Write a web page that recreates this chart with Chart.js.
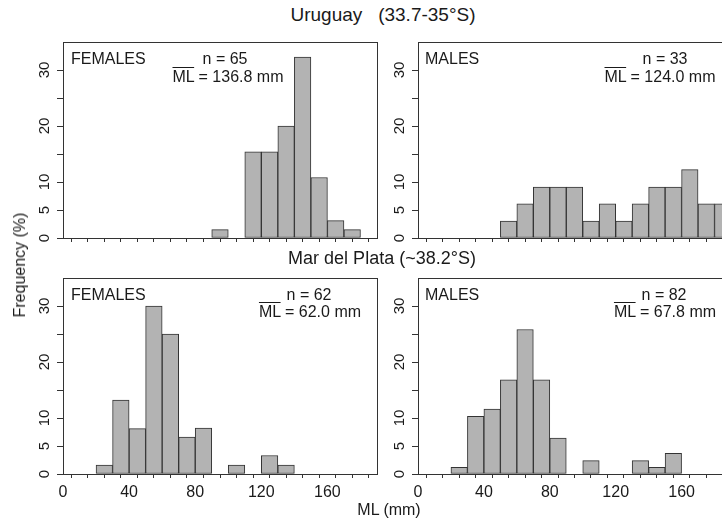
<!DOCTYPE html>
<html>
<head>
<meta charset="utf-8">
<script src="https://cdn.jsdelivr.net/npm/chart.js@4.4.1/dist/chart.umd.min.js"></script>
<style>
body { margin: 0; background: #fff; }
#wrap { position: relative; width: 722px; height: 522px; overflow: hidden;
        font-family: "Liberation Sans", Arial, sans-serif; color: #1a1a1a; }
#wrap canvas { position: absolute; }
.c { position: absolute; white-space: nowrap; line-height: 1; transform: translate(-50%, -50%); }
.l { position: absolute; white-space: nowrap; line-height: 1; transform: translateY(-50%); }
.title { font-size: 19px; }
.txt { font-size: 16px; }
.ov { text-decoration: overline; text-decoration-thickness: 1px; }
</style>
</head>
<body>
<div id="wrap">
  <canvas id="p0"></canvas>
  <canvas id="p1"></canvas>
  <canvas id="p2"></canvas>
  <canvas id="p3"></canvas>

  <div class="c title" style="left:383px;top:14px">Uruguay&nbsp;&nbsp;&nbsp;(33.7-35°S)</div>
  <div class="c title" style="left:382px;top:258px;font-size:18px">Mar del Plata (~38.2°S)</div>
  <div class="c txt" style="left:20px;top:265px;transform:translate(-50%,-50%) rotate(-90deg)">Frequency (%)</div>
  <div class="c txt" style="left:389px;top:510px">ML (mm)</div>

  <div class="l txt" id="sex0" style="left:71px;top:59px"></div>
  <div class="c txt" id="n0" style="left:225px;top:59px"></div>
  <div class="c txt" id="m0" style="left:228px;top:77px"></div>

  <div class="l txt" id="sex1" style="left:425px;top:59px"></div>
  <div class="c txt" id="n1" style="left:665px;top:59px"></div>
  <div class="c txt" id="m1" style="left:660px;top:77px"></div>

  <div class="l txt" id="sex2" style="left:71px;top:295px"></div>
  <div class="c txt" id="n2" style="left:309px;top:295px"></div>
  <div class="c txt" id="m2" style="left:310px;top:312px"></div>

  <div class="l txt" id="sex3" style="left:425px;top:295px"></div>
  <div class="c txt" id="n3" style="left:664px;top:295px"></div>
  <div class="c txt" id="m3" style="left:665px;top:312px"></div>
</div>
<script>
// bins de 10 mm (início de cada classe de ML)
const binStarts = [0, 10, 20, 30, 40, 50, 60, 70, 80, 90, 100, 110, 120, 130, 140, 150, 160, 170, 180];
const binWidth = 10;

// frequências (%)
const uruguayFemales = [0, 0, 0, 0, 0, 0, 0, 0, 0, 1.5, 0, 15.4, 15.4, 20.0, 32.3, 10.8, 3.1, 1.5, 0];
const uruguayMales   = [0, 0, 0, 0, 0, 3.0, 6.1, 9.1, 9.1, 9.1, 3.0, 6.1, 3.0, 6.1, 9.1, 9.1, 12.2, 6.1, 6.1];
const mdpFemales     = [0, 0, 1.6, 13.2, 8.1, 30.0, 25.0, 6.6, 8.2, 0, 1.6, 0, 3.3, 1.6, 0, 0, 0, 0, 0];
const mdpMales       = [0, 0, 1.2, 10.3, 11.6, 16.8, 25.8, 16.8, 6.4, 0, 2.4, 0, 0, 2.4, 1.2, 3.7, 0, 0, 0];

const panelSex  = ['FEMALES', 'MALES', 'FEMALES', 'MALES'];
const panelN    = [65, 33, 62, 82];
const panelMean = ['136.8', '124.0', '62.0', '67.8'];

const xTicks = [0, 10, 20, 30, 40, 50, 60, 70, 80, 90, 100, 110, 120, 130, 140, 150, 160, 170, 180];
const xLabels = [0, 40, 80, 120, 160];
const yTicks = [0, 5, 10, 15, 20, 25, 30];
const yLabels = [0, 5, 10, 20, 30];

const FONT = '"Liberation Sans", Arial, sans-serif';
const YW = 60, XH = 30, PT = 14, PR = 4;

// caixa em volta da área do gráfico (estilo R)
const boxPlugin = {
    id: 'box',
    afterDraw(chart) {
        const ctx = chart.ctx;
        const a = chart.chartArea;
        ctx.save();
        ctx.strokeStyle = '#333';
        ctx.lineWidth = 1;
        ctx.strokeRect(Math.round(a.left) + 0.5, Math.round(a.top) + 0.5,
                       Math.round(a.right - a.left), Math.round(a.bottom - a.top));
        ctx.restore();
    }
};

function makePanel(id, values, area, showX) {
    let canvas = document.getElementById(id);
    canvas.width = area.right - area.left + YW + PR;
    canvas.height = area.bottom - area.top + PT + XH;
    canvas.style.left = (area.left - YW) + 'px';
    canvas.style.top = (area.top - PT) + 'px';

    return new Chart(canvas, {
        type: 'bar',
        data: {
            datasets: [{
                data: binStarts.map((b, i) => ({ x: b + binWidth / 2, y: values[i] })),
                backgroundColor: '#b3b3b3',
                borderColor: '#333',
                borderWidth: 1,
                borderSkipped: false,
                barPercentage: 1,
                categoryPercentage: 1
            }]
        },
        options: {
            responsive: false,
            animation: false,
            layout: { padding: { top: PT, right: PR, left: 0, bottom: 0 } },
            plugins: { legend: { display: false }, tooltip: { enabled: false } },
            scales: {
                x: {
                    type: 'linear',
                    offset: false,
                    min: 0,
                    max: 190,
                    afterBuildTicks: s => { s.ticks = xTicks.map(v => ({ value: v })); },
                    afterFit: s => { s.height = XH; },
                    border: { display: false },
                    grid: { drawOnChartArea: false, tickLength: 4, color: '#333' },
                    ticks: {
                        display: showX,
                        autoSkip: false,
                        maxRotation: 0,
                        padding: 5,
                        color: '#1a1a1a',
                        font: { family: FONT, size: 16 },
                        callback: v => xLabels.includes(v) ? String(v) : ''
                    }
                },
                y: {
                    min: 0,
                    max: 35,
                    afterBuildTicks: s => { s.ticks = yTicks.map(v => ({ value: v })); },
                    afterFit: s => { s.width = YW; },
                    border: { display: false },
                    grid: { drawOnChartArea: false, tickLength: 6, color: '#333' },
                    ticks: {
                        autoSkip: false,
                        minRotation: 90,
                        maxRotation: 90,
                        crossAlign: 'center',
                        padding: 4,
                        color: '#1a1a1a',
                        font: { family: FONT, size: 15 },
                        callback: v => yLabels.includes(v) ? String(v) : ''
                    }
                }
            }
        },
        plugins: [boxPlugin]
    });
}

makePanel('p0', uruguayFemales, { left: 63, right: 377, top: 42, bottom: 238 }, false);
makePanel('p1', uruguayMales,   { left: 418, right: 731, top: 42, bottom: 238 }, false);
makePanel('p2', mdpFemales,     { left: 63, right: 377, top: 278, bottom: 474 }, true);
makePanel('p3', mdpMales,       { left: 418, right: 731, top: 278, bottom: 474 }, true);

// textos de cada painel
for (let i = 0; i < 4; i++) {
    document.getElementById('sex' + i).textContent = panelSex[i];
    document.getElementById('n' + i).textContent = 'n = ' + panelN[i];
    document.getElementById('m' + i).innerHTML = '<span class="ov">ML</span> = ' + panelMean[i] + ' mm';
}
</script>
</body>
</html>
